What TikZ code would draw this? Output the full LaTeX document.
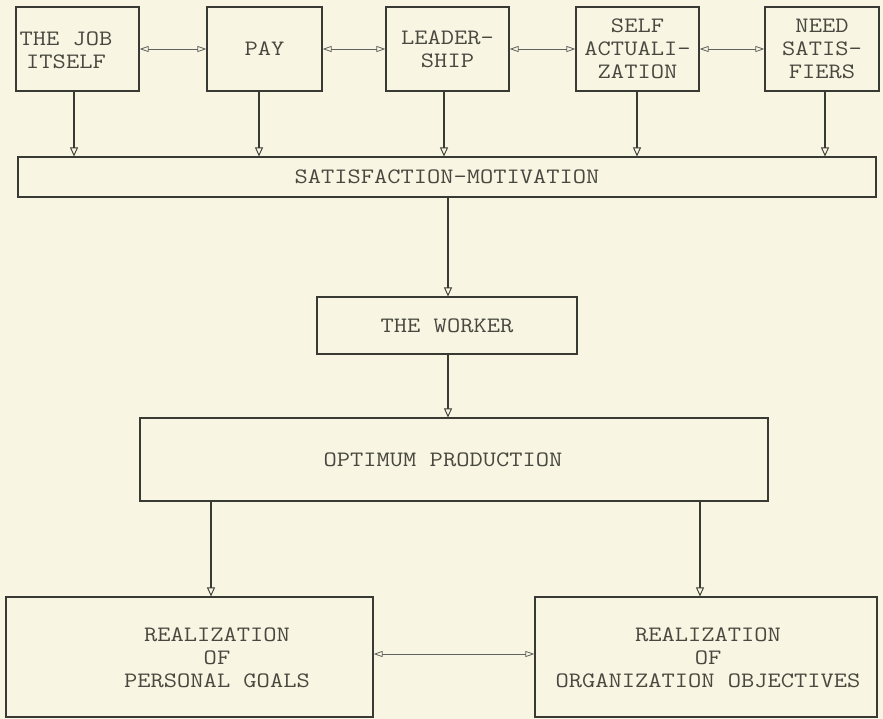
\documentclass[tikz,border=0pt]{standalone}
\usepackage{fontspec}
\usetikzlibrary{arrows.meta}
\newfontfamily\typewriter{Latin Modern Mono}[FakeStretch=1.17]
\definecolor{paper}{RGB}{248,246,226}
\definecolor{ink}{RGB}{58,58,52}
\definecolor{typeink}{RGB}{72,72,64}
\newcommand\typeface{\typewriter\fontsize{22}{23}\selectfont}
\tikzset{
  box/.style={draw=ink, line width=1.2pt, inner sep=0pt, align=center,
    text=typeink, font=\typeface},
  lbl/.style={inner sep=0pt, align=center, text=typeink, font=\typeface},
  flow/.style={draw=ink, line width=1.1pt,
    -{Triangle[open, length=9pt, width=8pt, line width=0.9pt]}},
  link/.style={draw=ink!80, line width=0.7pt,
    {Triangle[open, length=9pt, width=6pt, line width=0.8pt]}-{Triangle[open, length=9pt, width=6pt, line width=0.8pt]}}
}
\begin{document}
\begin{tikzpicture}[x=1pt, y=1pt]
  \fill[paper] (0,0) rectangle (883,-719);
  \useasboundingbox (0,0) rectangle (883,-719);

  % factors at the top
  \node[box, minimum width=123, minimum height=84] (job)  at (77.5,-49)  {};
  \node[lbl] at (66,-50) {THE JOB\\ITSELF};
  \node[box, minimum width=115, minimum height=84] (pay)  at (264.5,-49) {PAY};
  \node[box, minimum width=123, minimum height=84] (lead) at (447.5,-49) {LEADER-\\SHIP};
  \node[box, minimum width=123, minimum height=84] (self) at (637.5,-49) {SELF\\ACTUALI-\\ZATION};
  \node[box, minimum width=114, minimum height=84] (need) at (822,-49)   {NEED\\SATIS-\\FIERS};

  % central chain
  \node[box, minimum width=858, minimum height=40] (sm) at (447,-177) {SATISFACTION-MOTIVATION};
  \node[box, minimum width=260, minimum height=57] (worker) at (447,-325.5) {THE WORKER};
  \node[box, minimum width=628, minimum height=83] (op) at (454,-459.5) {};
  \node[lbl] at (443,-460) {OPTIMUM PRODUCTION};

  % outcomes
  \node[box, minimum width=367, minimum height=120] (pg) at (189.5,-657) {};
  \node[lbl] at (217,-658) {REALIZATION\\OF\\PERSONAL GOALS};
  \node[box, minimum width=342, minimum height=120] (oo) at (706,-657) {};
  \node[lbl] at (708,-658) {REALIZATION\\OF\\ORGANIZATION OBJECTIVES};

  % links between the factors
  \draw[link] (job.east)  -- (pay.west);
  \draw[link] (pay.east)  -- (lead.west);
  \draw[link] (lead.east) -- (self.west);
  \draw[link] (self.east) -- (need.west);

  % factors feed satisfaction-motivation
  \draw[flow] ([xshift=-3.5pt]job.south)  -- ([xshift=-3.5pt]job.south |- sm.north);
  \draw[flow] ([xshift=-5.5pt]pay.south)  -- ([xshift=-5.5pt]pay.south |- sm.north);
  \draw[flow] ([xshift=-3.5pt]lead.south) -- ([xshift=-3.5pt]lead.south |- sm.north);
  \draw[flow] ([xshift=-0.5pt]self.south) -- ([xshift=-0.5pt]self.south |- sm.north);
  \draw[flow] ([xshift=3pt]need.south) -- ([xshift=3pt]need.south |- sm.north);

  % down the chain
  \draw[flow] ([xshift=1pt]sm.south) -- ([xshift=1pt]worker.north);
  \draw[flow] ([xshift=1pt]worker.south) -- ([xshift=1pt]worker.south |- op.north);
  \draw[flow] ([xshift=21.5pt]pg.north |- op.south) -- ([xshift=21.5pt]pg.north);
  \draw[flow] ([xshift=-6pt]oo.north |- op.south) -- ([xshift=-6pt]oo.north);

  % the two outcomes
  \draw[link] ([yshift=3pt]pg.east) -- ([yshift=3pt]oo.west);
\end{tikzpicture}
\end{document}
